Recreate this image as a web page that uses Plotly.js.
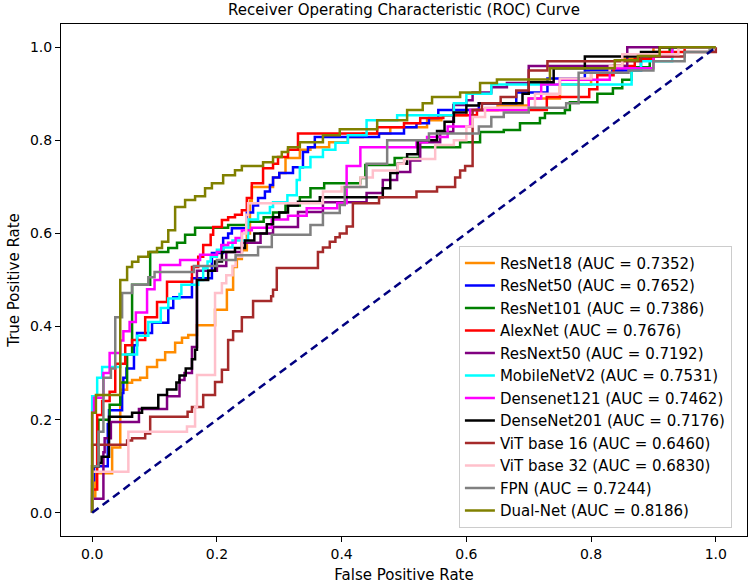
<!DOCTYPE html>
<html>
<head>
<meta charset="utf-8">
<script src="https://cdn.plot.ly/plotly-3.0.1.min.js"></script>
<style>html,body{margin:0;padding:0;background:#fff;}#chart{width:752px;height:584px;}</style>
</head>
<body>
<div id="chart"></div>
<script>
const modelNames = ["ResNet18","ResNet50","ResNet101","AlexNet","ResNext50","MobileNetV2","Densenet121","DenseNet201","ViT base 16","ViT base 32","FPN","Dual-Net"];
const aucValues = ["0.7352","0.7652","0.7386","0.7676","0.7192","0.7531","0.7462","0.7176","0.6460","0.6830","0.7244","0.8186"];
const lineColors = ["#ff8c00","#0000ff","#008000","#ff0000","#800080","#00ffff","#ff00ff","#000000","#a52a2a","#ffc0cb","#808080","#808000"];

const fpr_resnet18 = [0,0,0.005,0.032,0.045,0.056,0.064,0.077,0.088,0.104,0.117,0.133,0.144,0.154,0.168,0.197,0.216,0.226,0.232,0.24,0.248,0.253,0.256,0.29,0.3,0.31,0.333,0.35,0.38,0.41,0.434,0.478,0.537,0.56,0.6,0.65,0.7,0.75,0.8,0.85,0.9,1];
const tpr_resnet18 = [0,0.035,0.085,0.14,0.264,0.279,0.285,0.29,0.313,0.328,0.345,0.365,0.376,0.382,0.403,0.436,0.479,0.528,0.545,0.564,0.6,0.67,0.7,0.72,0.73,0.762,0.78,0.785,0.796,0.807,0.815,0.828,0.843,0.854,0.865,0.875,0.89,0.92,0.95,0.975,1.0,1];

const fpr_resnet50 = [0,0,0.003,0.025,0.027,0.048,0.05,0.055,0.067,0.072,0.096,0.122,0.13,0.16,0.192,0.21,0.218,0.224,0.248,0.258,0.266,0.277,0.285,0.29,0.3,0.322,0.338,0.346,0.357,0.46,0.5,0.52,0.54,0.555,0.62,0.68,0.73,0.79,0.88,0.93,1];
const tpr_resnet50 = [0,0.07,0.1,0.19,0.22,0.257,0.29,0.31,0.36,0.386,0.408,0.44,0.463,0.504,0.558,0.59,0.6,0.611,0.645,0.66,0.676,0.69,0.704,0.72,0.73,0.742,0.775,0.785,0.807,0.815,0.828,0.837,0.848,0.865,0.88,0.903,0.933,0.95,0.98,1.0,1];

const fpr_resnet101 = [0,0,0.01,0.028,0.045,0.056,0.064,0.093,0.122,0.136,0.149,0.165,0.218,0.25,0.275,0.29,0.31,0.333,0.35,0.372,0.43,0.438,0.485,0.525,0.59,0.622,0.66,0.686,0.718,0.726,0.758,0.766,0.81,0.835,0.85,0.865,0.894,0.926,1];
const tpr_resnet101 = [0,0.1,0.2,0.232,0.28,0.34,0.49,0.56,0.569,0.58,0.597,0.612,0.618,0.625,0.635,0.645,0.66,0.678,0.697,0.708,0.719,0.747,0.762,0.785,0.796,0.818,0.822,0.837,0.848,0.858,0.865,0.882,0.9,0.912,0.93,0.957,0.98,1.0,1];

const fpr_alexnet = [0,0,0.008,0.016,0.028,0.037,0.053,0.064,0.085,0.104,0.12,0.16,0.17,0.178,0.19,0.194,0.208,0.218,0.229,0.24,0.248,0.256,0.274,0.29,0.298,0.314,0.33,0.457,0.5,0.526,0.563,0.617,0.729,0.797,0.81,0.836,0.87,0.9,0.95,1];
const tpr_alexnet = [0,0.05,0.21,0.24,0.26,0.32,0.36,0.371,0.42,0.453,0.496,0.528,0.55,0.575,0.597,0.614,0.629,0.635,0.64,0.65,0.676,0.708,0.74,0.75,0.764,0.78,0.815,0.828,0.837,0.848,0.854,0.865,0.893,0.91,0.94,0.96,0.975,0.99,1.0,1];

const fpr_resnext50 = [0,0,0.018,0.02,0.03,0.075,0.12,0.14,0.148,0.16,0.168,0.2,0.215,0.24,0.27,0.29,0.33,0.37,0.44,0.466,0.489,0.51,0.526,0.558,0.579,0.6,0.61,0.64,0.665,0.7,0.858,1];
const tpr_resnext50 = [0,0.03,0.13,0.16,0.195,0.223,0.25,0.285,0.3,0.356,0.52,0.53,0.56,0.58,0.6,0.614,0.646,0.667,0.687,0.715,0.732,0.757,0.796,0.818,0.876,0.886,0.903,0.914,0.923,0.96,1.0,1];

const fpr_mobilenetv2 = [0,0,0.008,0.016,0.045,0.072,0.09,0.11,0.122,0.14,0.143,0.17,0.178,0.185,0.19,0.2,0.21,0.225,0.25,0.266,0.285,0.29,0.313,0.328,0.333,0.35,0.37,0.39,0.41,0.44,0.489,0.58,0.6,0.64,0.865,0.88,0.93,1];
const tpr_mobilenetv2 = [0,0.25,0.29,0.313,0.34,0.38,0.41,0.44,0.46,0.47,0.49,0.5,0.525,0.54,0.55,0.565,0.57,0.585,0.63,0.644,0.657,0.667,0.682,0.715,0.742,0.764,0.78,0.795,0.811,0.843,0.854,0.88,0.9,0.92,0.95,0.97,1.0,1];

const fpr_densenet121 = [0,0,0.003,0.018,0.028,0.045,0.05,0.06,0.07,0.088,0.1,0.109,0.141,0.173,0.2,0.207,0.218,0.23,0.24,0.256,0.288,0.314,0.344,0.393,0.408,0.43,0.52,0.537,0.57,0.606,0.7,0.72,0.75,0.83,0.9,0.93,1];
const tpr_densenet121 = [0,0.215,0.247,0.3,0.343,0.37,0.39,0.41,0.43,0.48,0.5,0.532,0.543,0.554,0.56,0.575,0.58,0.59,0.607,0.612,0.63,0.638,0.654,0.665,0.745,0.785,0.796,0.807,0.83,0.865,0.89,0.92,0.93,0.955,0.98,1.0,1];

const fpr_densenet201 = [0,0,0.01,0.015,0.027,0.064,0.08,0.106,0.12,0.135,0.14,0.15,0.16,0.165,0.168,0.186,0.197,0.208,0.229,0.245,0.26,0.28,0.29,0.3,0.314,0.33,0.365,0.466,0.478,0.49,0.505,0.522,0.553,0.565,0.58,0.6,0.62,0.69,0.7,0.74,0.79,0.88,0.91,1];
const tpr_densenet201 = [0,0.1,0.107,0.12,0.206,0.215,0.225,0.253,0.265,0.28,0.295,0.31,0.33,0.35,0.5,0.52,0.54,0.56,0.569,0.585,0.6,0.62,0.635,0.645,0.66,0.668,0.678,0.697,0.73,0.75,0.77,0.8,0.82,0.84,0.86,0.875,0.88,0.9,0.925,0.955,0.98,0.99,1.0,1];

const fpr_vit16 = [0,0,0.056,0.064,0.085,0.093,0.153,0.16,0.178,0.197,0.208,0.218,0.226,0.24,0.258,0.287,0.29,0.296,0.362,0.37,0.381,0.39,0.397,0.408,0.418,0.46,0.52,0.553,0.582,0.59,0.598,0.61,0.625,0.655,0.68,0.7,0.73,0.88,0.95,1];
const tpr_vit16 = [0,0.146,0.155,0.16,0.17,0.206,0.217,0.227,0.253,0.281,0.307,0.371,0.39,0.42,0.455,0.465,0.479,0.526,0.56,0.57,0.582,0.592,0.6,0.615,0.665,0.678,0.69,0.7,0.72,0.735,0.745,0.865,0.88,0.893,0.907,0.95,0.97,0.98,0.99,1];

const fpr_vit32 = [0,0,0.058,0.152,0.165,0.168,0.197,0.208,0.215,0.225,0.23,0.24,0.247,0.25,0.37,0.4,0.43,0.45,0.49,0.5,0.55,0.58,0.6,0.61,0.63,0.71,0.75,0.8,0.83,0.85,0.94,1];
const tpr_vit32 = [0,0.088,0.174,0.185,0.227,0.296,0.472,0.493,0.51,0.53,0.55,0.6,0.64,0.665,0.69,0.7,0.72,0.735,0.75,0.76,0.79,0.8,0.83,0.85,0.87,0.9,0.933,0.945,0.96,0.985,1.0,1];

const fpr_fpn = [0,0,0.01,0.018,0.03,0.037,0.048,0.064,0.09,0.1,0.163,0.2,0.23,0.266,0.288,0.35,0.37,0.397,0.405,0.44,0.473,0.54,0.62,0.64,0.66,0.7,0.76,0.78,0.86,0.9,0.95,0.99,1];
const tpr_fpn = [0,0.1,0.174,0.29,0.31,0.42,0.472,0.49,0.506,0.517,0.53,0.543,0.553,0.571,0.597,0.618,0.644,0.661,0.7,0.75,0.8,0.815,0.83,0.85,0.86,0.87,0.88,0.945,0.95,0.97,0.99,1.0,1];

const fpr_dualnet = [0,0,0.006,0.045,0.056,0.064,0.074,0.09,0.104,0.112,0.122,0.133,0.149,0.165,0.181,0.192,0.21,0.229,0.24,0.274,0.29,0.304,0.314,0.333,0.37,0.397,0.457,0.505,0.53,0.545,0.59,0.622,0.649,0.734,0.838,0.875,0.91,1];
const tpr_dualnet = [0,0.215,0.253,0.5,0.528,0.539,0.55,0.56,0.569,0.582,0.607,0.657,0.672,0.68,0.697,0.708,0.725,0.736,0.745,0.753,0.764,0.775,0.785,0.796,0.811,0.824,0.843,0.865,0.88,0.893,0.903,0.923,0.931,0.955,0.972,0.981,1.0,1];

const chanceX = [0, 1];
const chanceY = [0, 1];

const fprList = [fpr_resnet18,fpr_resnet50,fpr_resnet101,fpr_alexnet,fpr_resnext50,fpr_mobilenetv2,fpr_densenet121,fpr_densenet201,fpr_vit16,fpr_vit32,fpr_fpn,fpr_dualnet];
const tprList = [tpr_resnet18,tpr_resnet50,tpr_resnet101,tpr_alexnet,tpr_resnext50,tpr_mobilenetv2,tpr_densenet121,tpr_densenet201,tpr_vit16,tpr_vit32,tpr_fpn,tpr_dualnet];

const traces = modelNames.map((n, i) => ({
  x: fprList[i], y: tprList[i], type: 'scatter', mode: 'lines',
  name: n + ' (AUC = ' + aucValues[i] + ')',
  line: {color: lineColors[i], width: 2.5, shape: 'hv'},
  hoverinfo: 'skip'
}));
traces.push({x: chanceX, y: chanceY, type: 'scatter', mode: 'lines', showlegend: false,
  line: {color: '#000080', width: 2.5, dash: '8px,5px'}, hoverinfo: 'skip'});

const font = "DejaVu Sans, sans-serif";
const axisCommon = {
  range: [-0.05, 1.05], tickvals: [0,0.2,0.4,0.6,0.8,1.0], tickformat: '.1f',
  showgrid: false, zeroline: false, showline: true, mirror: true, linecolor: '#000', linewidth: 1,
  ticks: 'outside', ticklen: 5, tickwidth: 1, tickcolor: '#000',
  tickfont: {family: font, size: 14, color: '#000'}, automargin: false
};
const layout = {
  width: 752, height: 584, paper_bgcolor: '#fff', plot_bgcolor: '#fff',
  margin: {l: 61, r: 5, t: 24, b: 48},
  title: {text: 'Receiver Operating Characteristic (ROC) Curve', font: {family: font, size: 15, color: '#000'},
          x: 0.5, xref: 'paper', y: 1 - 10/584, yref: 'container', yanchor: 'middle'},
  xaxis: Object.assign({}, axisCommon, {title: {text: 'False Positive Rate', font: {family: font, size: 15, color: '#000'}, standoff: 8}}),
  yaxis: Object.assign({}, axisCommon, {title: {text: 'True Positive Rate', font: {family: font, size: 15, color: '#000'}, standoff: 6}}),
  legend: {x: 0.978, y: 0.016, xanchor: 'right', yanchor: 'bottom', bgcolor: 'rgba(255,255,255,0.85)',
           bordercolor: '#cccccc', borderwidth: 1, font: {family: font, size: 15, color: '#000'},
           tracegroupgap: 0, itemwidth: 30},
  showlegend: true
};
Plotly.newPlot('chart', traces, layout, {displayModeBar: false, staticPlot: true});
</script>
</body>
</html>
